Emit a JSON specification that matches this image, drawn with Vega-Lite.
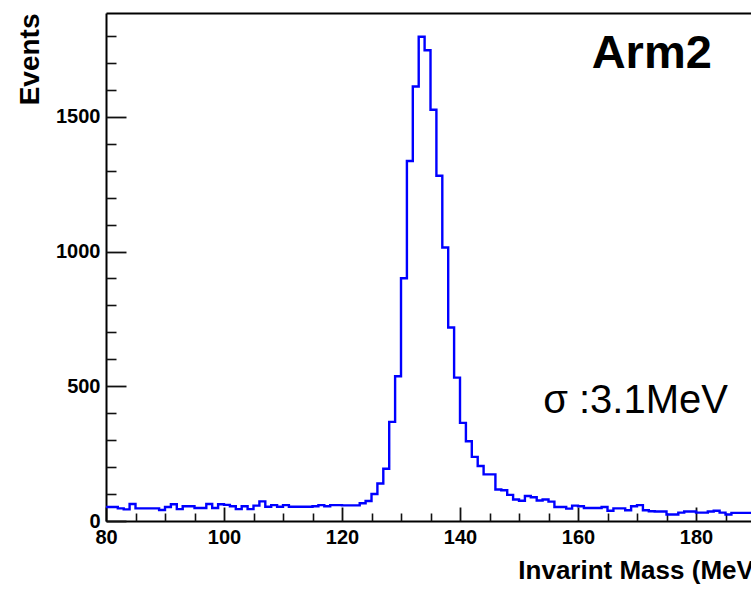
{
  "$schema": "https://vega.github.io/schema/vega-lite/v6.json",
  "width": 645,
  "height": 508,
  "autosize": {"type": "none"},
  "padding": {"left": 106, "top": 13, "right": 0, "bottom": 73},
  "background": "white",
  "config": {
    "view": {"stroke": null},
    "axis": {"labelFont": "Liberation Sans", "titleFont": "Liberation Sans", "labelColor": "black", "titleColor": "black", "domainColor": "black", "tickColor": "#111111", "grid": false}
  },
  "datasets": {
    "hist": [
      {"mass": 80, "events": 52}, {"mass": 81, "events": 52}, {"mass": 82, "events": 47}, {"mass": 83, "events": 43},
      {"mass": 84, "events": 63}, {"mass": 85, "events": 47}, {"mass": 86, "events": 47}, {"mass": 87, "events": 47},
      {"mass": 88, "events": 47}, {"mass": 89, "events": 41}, {"mass": 90, "events": 52}, {"mass": 91, "events": 62},
      {"mass": 92, "events": 44}, {"mass": 93, "events": 55}, {"mass": 94, "events": 55}, {"mass": 95, "events": 48},
      {"mass": 96, "events": 48}, {"mass": 97, "events": 63}, {"mass": 98, "events": 48}, {"mass": 99, "events": 62},
      {"mass": 100, "events": 60}, {"mass": 101, "events": 55}, {"mass": 102, "events": 44}, {"mass": 103, "events": 55},
      {"mass": 104, "events": 44}, {"mass": 105, "events": 57}, {"mass": 106, "events": 73}, {"mass": 107, "events": 53},
      {"mass": 108, "events": 59}, {"mass": 109, "events": 53}, {"mass": 110, "events": 59}, {"mass": 111, "events": 53},
      {"mass": 112, "events": 53}, {"mass": 113, "events": 53}, {"mass": 114, "events": 53}, {"mass": 115, "events": 55},
      {"mass": 116, "events": 59}, {"mass": 117, "events": 55}, {"mass": 118, "events": 59}, {"mass": 119, "events": 59},
      {"mass": 120, "events": 58}, {"mass": 121, "events": 58}, {"mass": 122, "events": 58}, {"mass": 123, "events": 66},
      {"mass": 124, "events": 74}, {"mass": 125, "events": 100}, {"mass": 126, "events": 139}, {"mass": 127, "events": 194},
      {"mass": 128, "events": 368}, {"mass": 129, "events": 537}, {"mass": 130, "events": 901}, {"mass": 131, "events": 1336},
      {"mass": 132, "events": 1612}, {"mass": 133, "events": 1797}, {"mass": 134, "events": 1747}, {"mass": 135, "events": 1526},
      {"mass": 136, "events": 1281}, {"mass": 137, "events": 1015}, {"mass": 138, "events": 718}, {"mass": 139, "events": 532},
      {"mass": 140, "events": 364}, {"mass": 141, "events": 296}, {"mass": 142, "events": 238}, {"mass": 143, "events": 204},
      {"mass": 144, "events": 173}, {"mass": 145, "events": 173}, {"mass": 146, "events": 117}, {"mass": 147, "events": 114},
      {"mass": 148, "events": 97}, {"mass": 149, "events": 80}, {"mass": 150, "events": 75}, {"mass": 151, "events": 93},
      {"mass": 152, "events": 88}, {"mass": 153, "events": 76}, {"mass": 154, "events": 80}, {"mass": 155, "events": 72},
      {"mass": 156, "events": 52}, {"mass": 157, "events": 52}, {"mass": 158, "events": 46}, {"mass": 159, "events": 57},
      {"mass": 160, "events": 55}, {"mass": 161, "events": 48}, {"mass": 162, "events": 48}, {"mass": 163, "events": 48},
      {"mass": 164, "events": 52}, {"mass": 165, "events": 38}, {"mass": 166, "events": 47}, {"mass": 167, "events": 47},
      {"mass": 168, "events": 40}, {"mass": 169, "events": 55}, {"mass": 170, "events": 59}, {"mass": 171, "events": 40},
      {"mass": 172, "events": 36}, {"mass": 173, "events": 35}, {"mass": 174, "events": 35}, {"mass": 175, "events": 24},
      {"mass": 176, "events": 24}, {"mass": 177, "events": 31}, {"mass": 178, "events": 35}, {"mass": 179, "events": 35},
      {"mass": 180, "events": 31}, {"mass": 181, "events": 31}, {"mass": 182, "events": 35}, {"mass": 183, "events": 38},
      {"mass": 184, "events": 31}, {"mass": 185, "events": 24}, {"mass": 186, "events": 30}, {"mass": 187, "events": 30},
      {"mass": 188, "events": 30}, {"mass": 189, "events": 30}, {"mass": 190, "events": 30}
    ],
    "notes": [
      {"mass": 172.5, "events": 1680, "label": "Arm2", "kind": "title"},
      {"mass": 154.1, "events": 401, "label": "σ :3.1MeV", "kind": "sigma"}
    ]
  },
  "layer": [
    {
      "data": {"name": "hist"},
      "mark": {"type": "line", "interpolate": "step-after", "color": "#0000ff", "strokeWidth": 2.4, "clip": true},
      "encoding": {
        "x": {"field": "mass", "type": "quantitative", "scale": {"domain": [80, 189.32], "nice": false, "zero": false},
          "axis": {"orient": "bottom", "values": [80, 100, 120, 140, 160, 180], "format": "d", "ticks": false, "domain": true, "domainWidth": 2,
            "labelFontSize": 20, "labelFontWeight": "bold", "labelPadding": 6, "labelFlush": false, "labelOverlap": false, "labelBound": false,
            "title": "Invarint Mass (MeV)", "titleFontSize": 26, "titleFontWeight": "bold", "titleAlign": "right", "titleBaseline": "alphabetic", "titleX": 656, "titleY": 57}},
        "y": {"field": "events", "type": "quantitative", "scale": {"domain": [0, 1885], "nice": false},
          "axis": {"orient": "left", "values": [0, 500, 1000, 1500], "format": "d", "ticks": false, "domain": true, "domainWidth": 2,
            "labelFontSize": 20, "labelFontWeight": "bold", "labelPadding": 6, "labelFlush": false, "labelOverlap": false, "labelBound": false,
            "title": "Events", "titleFontSize": 28, "titleFontWeight": "bold", "titleAngle": 270, "titleAlign": "right", "titleBaseline": "alphabetic", "titleX": -68, "titleY": 0}}
      }
    },
    {
      "data": {"name": "hist"},
      "mark": {"type": "line", "opacity": 0},
      "encoding": {
        "x": {"field": "mass", "type": "quantitative", "scale": {"domain": [80, 189.32], "nice": false, "zero": false},
          "axis": {"orient": "bottom", "values": [80, 100, 120, 140, 160, 180], "offset": -14, "tickSize": 14, "tickWidth": 1.8, "domain": false, "labels": false, "title": null}},
        "y": {"field": "events", "type": "quantitative", "scale": {"domain": [0, 1885], "nice": false},
          "axis": {"orient": "left", "values": [0, 500, 1000, 1500], "offset": -20, "tickSize": 20, "tickWidth": 1.8, "domain": false, "labels": false, "title": null}}
      }
    },
    {
      "data": {"name": "hist"},
      "mark": {"type": "line", "opacity": 0},
      "encoding": {
        "x": {"field": "mass", "type": "quantitative", "scale": {"domain": [80, 189.32], "nice": false, "zero": false},
          "axis": {"orient": "bottom", "values": [85, 90, 95, 105, 110, 115, 125, 130, 135, 145, 150, 155, 165, 170, 175, 185], "offset": -8, "tickSize": 8, "tickWidth": 1.6, "domain": false, "labels": false, "title": null}},
        "y": {"field": "events", "type": "quantitative", "scale": {"domain": [0, 1885], "nice": false},
          "axis": {"orient": "left", "values": [100, 200, 300, 400, 600, 700, 800, 900, 1100, 1200, 1300, 1400, 1600, 1700, 1800], "offset": -10, "tickSize": 10, "tickWidth": 1.6, "domain": false, "labels": false, "title": null}}
      }
    },
    {
      "data": {"name": "hist"},
      "mark": {"type": "line", "opacity": 0},
      "encoding": {
        "x": {"field": "mass", "type": "quantitative", "scale": {"domain": [80, 189.32], "nice": false, "zero": false},
          "axis": {"orient": "top", "values": [], "ticks": false, "domain": true, "domainWidth": 2, "labels": false, "title": null}},
        "y": {"field": "events", "type": "quantitative", "scale": {"domain": [0, 1885], "nice": false}, "axis": null}
      }
    },
    {
      "data": {"name": "notes"},
      "transform": [{"filter": "datum.kind === 'title'"}],
      "mark": {"type": "text", "font": "Liberation Sans", "fontWeight": "bold", "fontSize": 47, "align": "center", "baseline": "alphabetic", "color": "black"},
      "encoding": {
        "x": {"field": "mass", "type": "quantitative", "scale": {"domain": [80, 189.32], "nice": false, "zero": false}, "axis": null},
        "y": {"field": "events", "type": "quantitative", "scale": {"domain": [0, 1885], "nice": false}, "axis": null},
        "text": {"field": "label"}
      }
    },
    {
      "data": {"name": "notes"},
      "transform": [{"filter": "datum.kind === 'sigma'"}],
      "mark": {"type": "text", "font": "Liberation Sans", "fontSize": 40, "align": "left", "baseline": "alphabetic", "color": "black"},
      "encoding": {
        "x": {"field": "mass", "type": "quantitative", "scale": {"domain": [80, 189.32], "nice": false, "zero": false}, "axis": null},
        "y": {"field": "events", "type": "quantitative", "scale": {"domain": [0, 1885], "nice": false}, "axis": null},
        "text": {"field": "label"}
      }
    }
  ],
  "resolve": {"axis": {"x": "independent", "y": "independent"}}
}
